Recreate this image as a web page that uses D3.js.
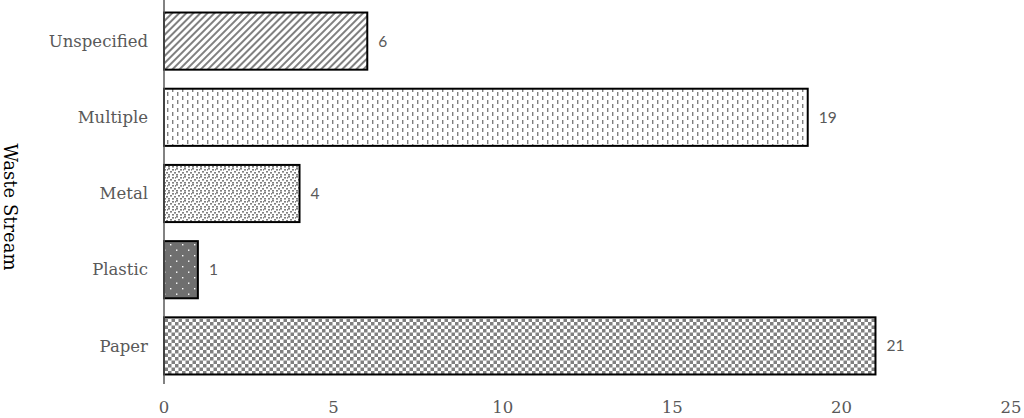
<!DOCTYPE html>
<html>
<head>
<meta charset="utf-8">
<script src="https://cdn.jsdelivr.net/npm/d3@7"></script>
<style>
  body { margin: 0; background: #fff; }
  svg { display: block; }
</style>
</head>
<body>
<svg id="chart" width="1024" height="418"></svg>
<script>
// waste stream counts, top to bottom as drawn
const categories = ["Unspecified", "Multiple", "Metal", "Plastic", "Paper"];
const counts = [6, 19, 4, 1, 21];
const xTicks = [0, 5, 10, 15, 20, 25];
const patternIds = ["pDiag", "pDash", "pConfetti", "pDots", "pCheck"];

const svg = d3.select("#chart");
const W = 1024, H = 418;
const m = { left: 164, right: 13, top: 3, bottom: 34 };

const defs = svg.append("defs");
const grey = "#808080";

// wide upward diagonal
const diag = defs.append("pattern").attr("id", "pDiag")
  .attr("patternUnits", "userSpaceOnUse").attr("width", 5).attr("height", 5)
  .attr("patternTransform", "rotate(45)");
diag.append("rect").attr("width", 5).attr("height", 5).attr("fill", "#fff");
diag.append("rect").attr("x", 0).attr("width", 2).attr("height", 5).attr("fill", grey);

// dashed vertical
const dash = defs.append("pattern").attr("id", "pDash")
  .attr("patternUnits", "userSpaceOnUse").attr("width", 10).attr("height", 8);
dash.append("rect").attr("width", 10).attr("height", 8).attr("fill", "#fff");
dash.append("rect").attr("x", 2).attr("y", 0).attr("width", 1.4).attr("height", 4).attr("fill", grey);
dash.append("rect").attr("x", 7).attr("y", 4).attr("width", 1.4).attr("height", 4).attr("fill", grey);

// small confetti
const conf = defs.append("pattern").attr("id", "pConfetti")
  .attr("patternUnits", "userSpaceOnUse").attr("width", 8).attr("height", 8);
conf.append("rect").attr("width", 8).attr("height", 8).attr("fill", "#fff");
[[0, 0], [4, 1], [2, 3], [6, 4], [0, 6], [4, 6], [7, 1]].forEach(([x, y]) =>
  conf.append("rect").attr("x", x).attr("y", y).attr("width", 2).attr("height", 1.6).attr("fill", grey));

// dark with white dots
const dots = defs.append("pattern").attr("id", "pDots")
  .attr("patternUnits", "userSpaceOnUse").attr("width", 12).attr("height", 11);
dots.append("rect").attr("width", 12).attr("height", 11).attr("fill", "#6f6f6f");
dots.append("rect").attr("x", 2).attr("y", 2).attr("width", 1.4).attr("height", 1.4).attr("fill", "#fff");
dots.append("rect").attr("x", 8).attr("y", 7.5).attr("width", 1.4).attr("height", 1.4).attr("fill", "#fff");

// small checkerboard
const check = defs.append("pattern").attr("id", "pCheck")
  .attr("patternUnits", "userSpaceOnUse").attr("width", 7).attr("height", 7);
check.append("rect").attr("width", 7).attr("height", 7).attr("fill", "#fff");
check.append("rect").attr("x", 0).attr("y", 0).attr("width", 3.5).attr("height", 3.5).attr("fill", grey);
check.append("rect").attr("x", 3.5).attr("y", 3.5).attr("width", 3.5).attr("height", 3.5).attr("fill", grey);

const x = d3.scaleLinear().domain([0, 25]).range([m.left, W - m.right]);
const y = d3.scaleBand().domain(categories).range([m.top, H - m.bottom]).paddingInner(0.25).paddingOuter(0.125);

// bars
svg.selectAll("rect.bar").data(categories).join("rect")
  .attr("class", "bar")
  .attr("x", x(0))
  .attr("y", d => y(d))
  .attr("width", (d, i) => x(counts[i]) - x(0))
  .attr("height", y.bandwidth())
  .attr("fill", (d, i) => `url(#${patternIds[i]})`)
  .attr("stroke", "#000")
  .attr("stroke-width", 2);

// value labels
svg.selectAll("text.val").data(categories).join("text")
  .attr("class", "val")
  .attr("x", (d, i) => x(counts[i]) + 11)
  .attr("y", d => y(d) + y.bandwidth() / 2)
  .attr("dy", "0.35em")
  .attr("font-family", "Lato, 'Open Sans', sans-serif")
  .attr("font-size", 15.5)
  .attr("fill", "#595959")
  .text((d, i) => counts[i]);

// y axis line
svg.append("line")
  .attr("x1", x(0)).attr("x2", x(0))
  .attr("y1", 0).attr("y2", H - m.bottom)
  .attr("stroke", "#595959").attr("stroke-width", 1.5);

// category labels
svg.selectAll("text.cat").data(categories).join("text")
  .attr("class", "cat")
  .attr("x", 148)
  .attr("y", d => y(d) + y.bandwidth() / 2)
  .attr("dy", "0.35em")
  .attr("text-anchor", "end")
  .attr("font-family", "'DejaVu Serif', serif")
  .attr("font-size", 16.5)
  .attr("fill", "#595959")
  .text(d => d);

// x tick labels
svg.selectAll("text.tick").data(xTicks).join("text")
  .attr("class", "tick")
  .attr("x", d => x(d))
  .attr("y", 413)
  .attr("text-anchor", "middle")
  .attr("font-family", "'DejaVu Serif', serif")
  .attr("font-size", 16.5)
  .attr("fill", "#595959")
  .text(d => d);

// axis title
svg.append("text")
  .attr("transform", `translate(4, 207) rotate(90)`)
  .attr("text-anchor", "middle")
  .attr("font-family", "'DejaVu Serif', serif")
  .attr("font-size", 18)
  .attr("fill", "#000")
  .text("Waste Stream");
</script>
</body>
</html>
